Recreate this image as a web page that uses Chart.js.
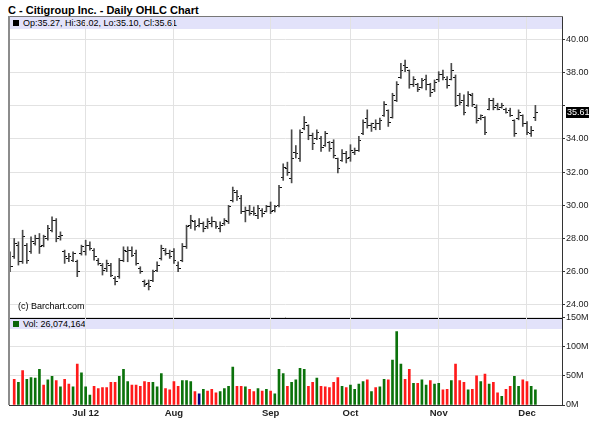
<!DOCTYPE html>
<html>
<head>
<meta charset="utf-8">
<script src="https://cdn.jsdelivr.net/npm/chart.js@4.4.1/dist/chart.umd.min.js"></script>
<style>
    html, body { margin: 0; padding: 0; background: #fff; }
    #wrap { position: relative; width: 600px; height: 439px; overflow: hidden;
            font-family: "Liberation Sans", Arial, sans-serif; color: #000; }
    #wrap canvas { position: absolute; left: 0; top: 0; z-index: 2; }
    .title { position: absolute; left: 8px; top: 4px; font-size: 11px; font-weight: bold; line-height: 13px; }
    .strip { position: absolute; left: 10px; width: 552px; background: #e2e2fa; font-size: 9px; z-index: 1; }
    .strip .sq { display: inline-block; width: 6px; height: 6px; margin: 0 4px 0 3px; }
    .line { position: absolute; z-index: 3; }
    .copy { position: absolute; left: 18px; top: 301px; font-size: 9px; z-index: 3; }
</style>
</head>
<body>
<div id="wrap">
    <div class="title">C - Citigroup Inc. - Daily OHLC Chart</div>
    <div class="strip" style="top:17px;height:12px;line-height:12px;"><span class="sq" style="background:#000"></span>Op:35.27, Hi:36.02, Lo:35.10, Cl:35.61</div>
    <div class="strip" style="top:319px;height:10px;line-height:10px;"><span class="sq" style="background:#0a640a"></span>Vol: 26,074,164</div>
    <div class="line" style="left:8px;top:16px;width:555px;height:1px;background:#777"></div>
    <div class="line" style="left:8px;top:16px;width:2px;height:389px;background:#8c8c8c"></div>
    <div class="copy">(c) Barchart.com</div>
    <canvas id="priceChart" width="600" height="439"></canvas>
    <canvas id="volumeChart" width="600" height="439"></canvas>
</div>
<script>
// ---------- data (one entry per trading day, Jun 6 2012 .. Dec 5 2012) ----------
const opens = [
    26.8, 26.9, 27.6, 26.6, 27.6, 27.2, 27.7, 28.0, 27.6, 28.0,
    28.5, 29.1, 28.1, 27.2, 26.8, 26.7, 26.6, 27.1, 27.2, 27.6,
    27.3, 26.7, 26.4, 26.2, 26.4, 25.6, 25.7, 26.7, 27.2, 27.3,
    27.1, 26.2, 25.4, 25.3, 25.5, 26.1, 26.8, 27.3, 27.1, 27.2,
    26.4, 26.7, 27.5, 28.8, 29.0, 28.8, 28.9, 28.7, 28.9, 29.0,
    28.6, 28.9, 29.0, 30.3, 30.8, 30.4, 29.6, 29.7, 29.6, 29.4,
    29.7, 29.6, 29.9, 29.7, 30.0, 31.7, 32.2, 31.6, 33.2, 32.8,
    34.6, 34.8, 34.2, 34.0, 34.0, 33.6, 33.8, 33.8, 32.8, 32.7,
    33.1, 32.9, 33.2, 33.3, 34.3, 35.2, 34.8, 34.7, 34.9, 35.4,
    35.7, 35.3, 36.3, 37.7, 38.4, 38.1, 37.3, 37.3, 37.1, 37.6,
    37.3, 37.0, 37.6, 37.9, 37.6, 37.6, 37.7, 36.6, 36.3, 36.0,
    36.6, 35.9, 35.2, 35.3, 35.8, 36.3, 36.0, 35.9, 35.8, 35.7,
    35.1, 35.2, 35.4, 34.9, 34.3, 35.27
];
const highs = [
    27.2, 28.0, 27.8, 28.5, 27.7, 28.1, 28.2, 28.3, 28.2, 28.8,
    29.3, 29.2, 28.4, 27.3, 27.1, 27.2, 26.7, 27.6, 27.9, 27.8,
    27.4, 26.8, 26.5, 26.7, 26.5, 25.7, 26.8, 27.5, 27.5, 27.5,
    27.3, 26.3, 25.5, 25.5, 26.1, 26.6, 27.6, 27.4, 27.3, 27.4,
    26.6, 27.7, 28.8, 29.4, 29.1, 29.2, 29.0, 29.2, 29.3, 29.0,
    29.0, 29.2, 30.0, 31.1, 30.9, 30.6, 29.9, 30.0, 29.9, 30.0,
    29.8, 30.0, 30.2, 30.0, 31.2, 32.5, 32.6, 34.55, 33.6, 34.55,
    35.35, 34.85, 34.35, 34.55, 34.15, 34.45, 33.85, 33.95, 32.85, 33.35,
    33.25, 33.65, 33.45, 34.15, 35.15, 35.75, 34.95, 35.15, 35.25, 36.25,
    35.75, 36.75, 37.45, 38.55, 38.75, 38.15, 37.75, 37.35, 37.65, 37.85,
    37.35, 37.55, 38.05, 38.15, 37.75, 38.55, 37.85, 36.75, 36.65, 36.85,
    36.75, 36.05, 35.45, 35.35, 36.45, 36.45, 36.15, 36.15, 35.85, 35.85,
    35.15, 35.75, 35.45, 35.05, 34.75, 36.02
];
const lows = [
    26.0, 26.8, 26.4, 26.5, 26.5, 27.1, 27.6, 27.1, 27.5, 27.9,
    28.4, 27.8, 27.9, 26.5, 26.6, 26.6, 25.7, 27.0, 27.0, 27.3,
    26.7, 26.4, 25.8, 26.0, 25.7, 25.2, 25.6, 26.6, 26.6, 26.9,
    26.4, 25.9, 25.1, 24.9, 25.4, 26.0, 26.7, 27.0, 26.8, 26.5,
    26.0, 26.6, 27.4, 28.6, 28.5, 28.7, 28.4, 28.6, 28.7, 28.6,
    28.4, 28.8, 28.9, 30.2, 30.3, 29.5, 29.0, 29.4, 29.4, 29.2,
    29.3, 29.6, 29.5, 29.6, 29.9, 31.5, 31.8, 31.35, 32.85, 32.65,
    34.55, 33.95, 33.35, 33.95, 33.25, 33.55, 33.25, 32.85, 31.95, 32.65,
    32.55, 32.65, 33.05, 33.25, 34.25, 34.65, 34.45, 34.55, 34.55, 35.35,
    34.75, 35.25, 36.25, 37.65, 38.05, 37.05, 37.15, 36.85, 37.05, 36.95,
    36.55, 36.85, 37.45, 37.55, 37.05, 37.55, 35.95, 36.05, 35.45, 35.95,
    35.95, 34.95, 35.15, 34.25, 35.75, 35.75, 35.75, 35.85, 35.55, 35.35,
    34.15, 35.15, 34.75, 34.25, 34.15, 35.10
];
const closes = [
    26.3, 27.7, 26.6, 28.1, 26.7, 27.8, 28.0, 27.5, 28.1, 28.6,
    29.1, 28.0, 28.2, 26.9, 26.9, 27.1, 26.0, 27.5, 27.6, 27.4,
    26.9, 26.5, 26.1, 26.5, 25.8, 25.4, 26.7, 27.3, 27.3, 27.0,
    26.5, 26.0, 25.2, 25.1, 26.0, 26.4, 27.4, 27.1, 26.9, 26.7,
    26.2, 27.5, 28.7, 29.1, 28.7, 28.9, 28.6, 29.0, 29.0, 28.7,
    28.8, 29.1, 29.9, 30.9, 30.5, 29.6, 29.7, 29.5, 29.5, 29.8,
    29.5, 29.9, 29.6, 29.9, 31.1, 32.3, 32.0, 32.8, 33.1, 34.4,
    35.0, 34.2, 33.7, 34.4, 33.5, 34.3, 33.4, 33.0, 32.2, 33.1,
    32.8, 33.3, 33.3, 33.9, 35.0, 34.8, 34.9, 34.9, 35.1, 36.1,
    35.0, 36.6, 37.3, 38.1, 38.3, 37.3, 37.6, 37.0, 37.5, 37.3,
    36.8, 37.4, 37.9, 37.7, 37.2, 38.1, 36.0, 36.2, 35.6, 36.7,
    36.1, 35.1, 35.4, 34.4, 36.3, 35.9, 35.8, 36.0, 35.6, 35.4,
    34.3, 35.6, 34.9, 34.4, 34.5, 35.61
];
// volume in millions of shares (first day hidden behind the frame)
const volumes = [
    null, 44, 39, 59, 44, 47, 46, 61, 34, 43,
    49, 42, 31, 44, 36, 31, 70, 55, 31, 17,
    32, 28, 30, 30, 39, 39, 49, 61, 40, 34,
    34, 32, 40, 39, 39, 31, 54, 28, 26, 40,
    32, 42, 42, 40, 23, 19, 27, 24, 27, 21,
    23, 28, 32, 65, 32, 32, 31, 27, 23, 28,
    24, 27, 24, 19, 61, 54, 32, 39, 43, 63,
    61, 32, 39, 46, 32, 31, 30, 39, 47, 32,
    30, 34, 27, 36, 40, 43, 23, 30, 31, 44,
    43, 77, 126, 70, 44, 61, 37, 37, 43, 34,
    42, 36, 37, 26, 27, 42, 70, 42, 39, 26,
    27, 50, 40, 53, 36, 39, 21, 15, 27, 32,
    49, 32, 43, 40, 32, 26.07
];
// u = up day, d = down day, n = unchanged
const volDir = (
    "ddudu uuudu ududd uduuu ddddd duuud ddddu uuddd duuud nuddd uuuud duddu " +
    "duduu uduuu uddud ddddu duuuu duduu duuud duduu duudd udddu ddudu ddudd uuddu u"
).replace(/ /g, "").split("");

const monthStartIdx = [18, 39, 62, 81, 102, 123];
const monthLabels = ["Jul 12", "Aug", "Sep", "Oct", "Nov", "Dec"];
const priceTicks = [24, 26, 28, 30, 32, 34, 36, 38, 40];
const volumeTicks = [0, 50, 100, 150];

// ---------- helpers ----------
Chart.defaults.font.family = '"Liberation Sans", Arial, sans-serif';
Chart.defaults.color = "#222";

const GRID = "#e2e2e2";
const X_MIN = -0.24, X_MAX = 131.33;
const lastClose = closes[closes.length - 1];

function tickImage(side) {
    const c = document.createElement("canvas");
    c.width = 5;
    c.height = 1;
    const g = c.getContext("2d");
    g.fillStyle = "#111";
    g.fillRect(side === "open" ? 0 : 3, 0, 2, 1);
    return c;
}

const lastPriceBox = {
    id: "lastPriceBox",
    afterDraw(chart) {
        const y = Math.round(chart.scales.y.getPixelForValue(lastClose));
        const x = chart.chartArea.right + 4;
        const ctx = chart.ctx;
        ctx.save();
        ctx.fillStyle = "#000";
        ctx.fillRect(x, y - 5, 23, 11);
        ctx.fillStyle = "#fff";
        ctx.font = '9px "Liberation Sans", Arial, sans-serif';
        ctx.textBaseline = "middle";
        ctx.fillText(lastClose.toFixed(2), x + 1, y + 0.5);
        ctx.restore();
    },
};

const xAxis = (extra) => Object.assign({
    type: "linear",
    min: X_MIN,
    max: X_MAX,
    offset: false,
    afterBuildTicks: s => { s.ticks = monthStartIdx.map(v => ({ value: v })); },
    grid: { color: GRID, offset: false, drawTicks: false },
}, extra);

const rightAxis = (extra) => Object.assign({
    position: "right",
    afterFit: s => { s.width = 38; },
    grid: { color: GRID, drawTicks: true, tickLength: 3, tickColor: "#333" },
    border: { display: true, color: "#333", width: 1 },
}, extra);

// ---------- price (OHLC) ----------
new Chart(document.getElementById("priceChart"), {
    type: "bar",
    data: {
        datasets: [
            {
                type: "scatter",
                data: opens.map((o, i) => ({ x: i, y: o })),
                pointStyle: tickImage("open"),
                pointRadius: 2,
            },
            {
                type: "scatter",
                data: closes.map((c, i) => ({ x: i, y: c })),
                pointStyle: tickImage("close"),
                pointRadius: 2,
            },
            {
                type: "bar",
                data: lows.map((l, i) => ({ x: i, y: [l, highs[i]] })),
                backgroundColor: "#4a4a4a",
                barThickness: 1,
                grouped: false,
            },
        ],
    },
    options: {
        responsive: false,
        animation: false,
        events: [],
        layout: { autoPadding: false, padding: { left: 9, top: 17, right: 0, bottom: 121 } },
        plugins: { legend: { display: false }, tooltip: { enabled: false } },
        scales: {
            x: xAxis({
                ticks: { display: false },
                border: { display: true, color: "#000", width: 2 },
                afterFit: s => { s.height = 0; },
            }),
            y: rightAxis({
                min: 23.211,
                max: 41.343,
                afterBuildTicks: s => { s.ticks = priceTicks.map(v => ({ value: v })); },
                ticks: {
                    padding: 1,
                    font: { size: 9 },
                    callback: v => Math.abs(v - lastClose) < 0.5 ? "" : v.toFixed(2),
                },
            }),
        },
    },
    plugins: [lastPriceBox],
});

// ---------- volume ----------
const volColors = { u: "#0b720b", d: "#ff1a1a", n: "#000080" };

new Chart(document.getElementById("volumeChart"), {
    type: "bar",
    data: {
        datasets: [{
            data: volumes.map((v, i) => ({ x: i, y: v })),
            backgroundColor: volDir.map(d => volColors[d]),
            barThickness: 2,
        }],
    },
    options: {
        responsive: false,
        animation: false,
        events: [],
        layout: { autoPadding: false, padding: { left: 9, top: 317.5, right: 0, bottom: 0 } },
        plugins: { legend: { display: false }, tooltip: { enabled: false } },
        scales: {
            x: xAxis({
                ticks: {
                    padding: 3,
                    maxRotation: 0,
                    autoSkip: false,
                    font: { size: 9.5, weight: "bold" },
                    callback: v => monthLabels[monthStartIdx.indexOf(v)],
                },
                border: { display: true, color: "#333", width: 1 },
                afterFit: s => { s.height = 34; },
            }),
            y: rightAxis({
                min: 0,
                max: 150,
                afterBuildTicks: s => { s.ticks = volumeTicks.map(v => ({ value: v })); },
                ticks: { padding: 1, font: { size: 9 }, callback: v => v + "M" },
            }),
        },
    },
});
</script>
</body>
</html>
